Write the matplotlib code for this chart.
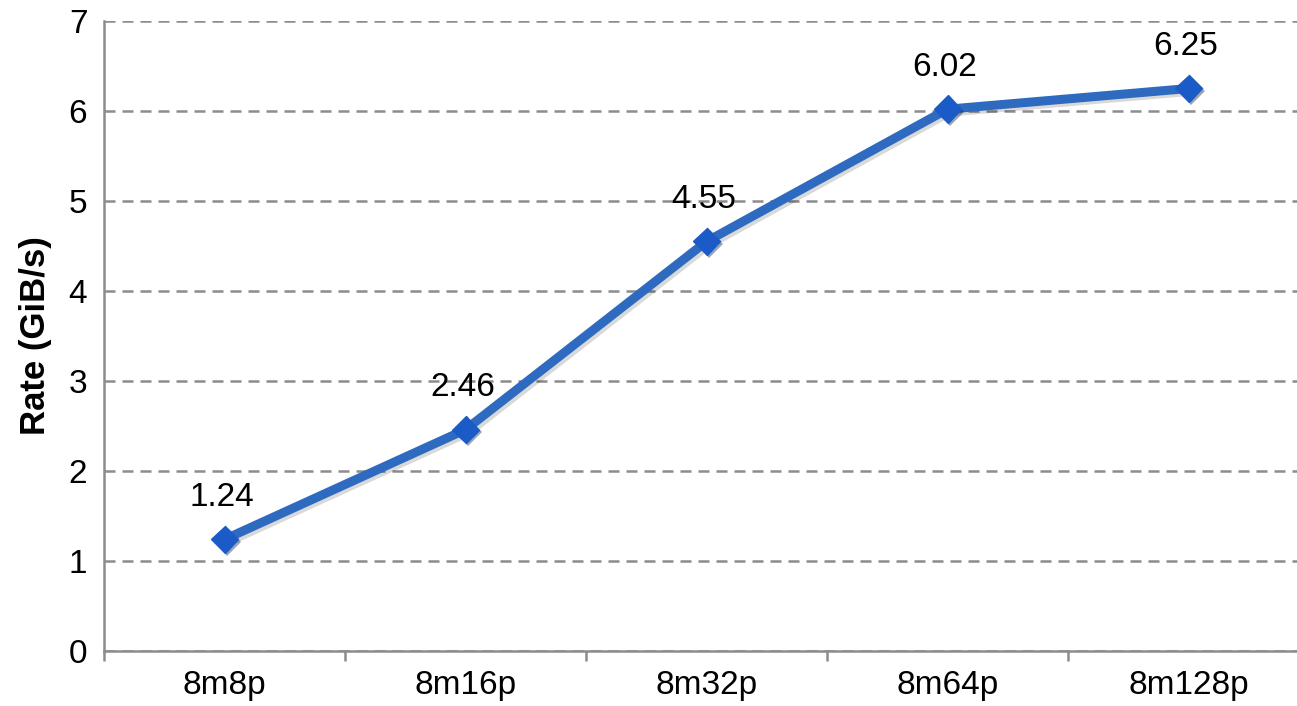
import numpy as np
import matplotlib.pyplot as plt
import matplotlib.patheffects as pe

# Data
categories = ['8m8p', '8m16p', '8m32p', '8m64p', '8m128p']
rates = [1.24, 2.46, 4.55, 6.02, 6.25]

plt.rcParams['font.family'] = ['Liberation Sans', 'DejaVu Sans']

fig = plt.figure(figsize=(12.97, 7.06), dpi=100)
ax = fig.add_axes([104 / 1297, 55 / 706, 1205 / 1297, 630 / 706])

x = np.arange(len(categories))
ax.plot(x, rates, color='#2E6BC0', lw=6.5, solid_capstyle='round', zorder=3,
        path_effects=[pe.SimpleLineShadow(offset=(2, -2), alpha=0.15), pe.Normal()])
ax.plot(x, rates, ls='none', marker='D', ms=14, color='#1A5BC8',
        markeredgecolor='#1A5BC8', zorder=4,
        path_effects=[pe.SimplePatchShadow(offset=(2, -2), alpha=0.4), pe.Normal()])

for xi, v in zip(x, rates):
    ax.annotate(f'{v:.2f}', (xi, v), xytext=(-2, 30), textcoords='offset points',
                ha='center', va='center', fontsize=24, color='black')

ax.set_xlim(-0.5, len(categories) - 0.5)
ax.set_ylim(0, 7)
ax.set_yticks(range(0, 8))
ax.set_xticks(x)
ax.set_xticklabels(categories)
ax.set_xticks(np.arange(-0.5, len(categories), 1), minor=True)

ax.yaxis.grid(True, ls=(0, (4.4, 2.8)), color='#8C8C8C', lw=1.8)
ax.set_axisbelow(True)

for s in ['top', 'right']:
    ax.spines[s].set_visible(False)
for s in ['left', 'bottom']:
    ax.spines[s].set_color('#8C8C8C')
    ax.spines[s].set_linewidth(1.8)

ax.tick_params(axis='x', which='major', length=0, labelsize=24, pad=14)
ax.tick_params(axis='x', which='minor', length=7, width=1.8, color='#8C8C8C')
ax.tick_params(axis='y', length=0, labelsize=24, pad=12)

ax.set_ylabel('Rate (GiB/s)', fontsize=25, fontweight='bold', labelpad=12)

fig.savefig('out.png', dpi=100)
